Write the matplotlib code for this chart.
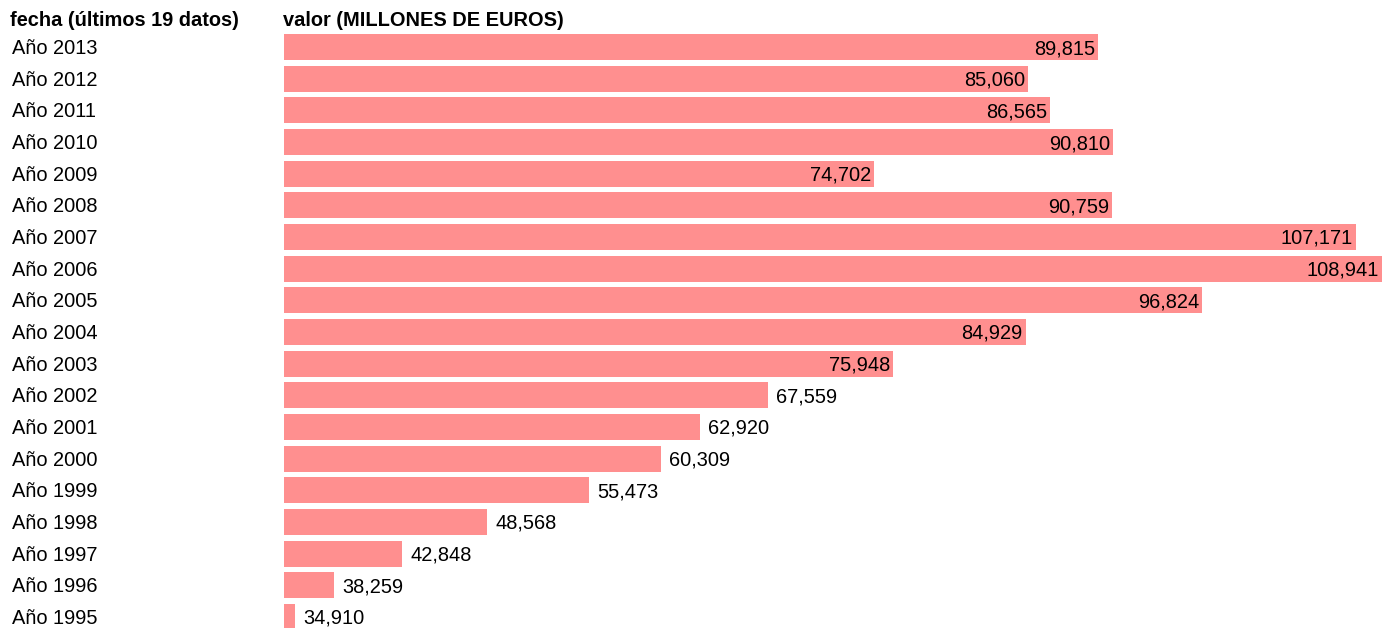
import numpy as np
import matplotlib
matplotlib.use("Agg")
import matplotlib.pyplot as plt
import matplotlib.transforms as mtransforms

plt.rcParams['font.family'] = ['Liberation Sans', 'DejaVu Sans']

# data (top to bottom as in the chart)
years = ['Año 2013', 'Año 2012', 'Año 2011', 'Año 2010', 'Año 2009', 'Año 2008',
         'Año 2007', 'Año 2006', 'Año 2005', 'Año 2004', 'Año 2003', 'Año 2002',
         'Año 2001', 'Año 2000', 'Año 1999', 'Año 1998', 'Año 1997', 'Año 1996',
         'Año 1995']
values = [89815, 85060, 86565, 90810, 74702, 90759, 107171, 108941, 96824,
          84929, 75948, 67559, 62920, 60309, 55473, 48568, 42848, 38259, 34910]
header_left = 'fecha (últimos 19 datos)'
header_right = 'valor (MILLONES DE EUROS)'

W, H = 1391, 628
fig = plt.figure(figsize=(W / 100, H / 100), dpi=100)
ax = fig.add_axes([284 / W, 0, 1102 / W, (628 - 31.2) / H])

x0 = 34870      # axis start value
x1 = 109229
min_w = 742     # smallest bar keeps a visible width
vals = np.array(values, dtype=float)
widths = np.maximum(vals - x0, min_w)
pos = np.arange(len(years))

ax.barh(pos, widths, left=x0, height=0.82, color='#ff8f8f')
ax.set_xlim(x0, x1)
ax.set_ylim(18.35, -0.5)
ax.axis('off')

fs = 14.4
dy = -1.5
for p, v, w in zip(pos, vals, widths):
    label = f'{int(v):,}'
    end = x0 + w
    if v > 70000:
        ax.annotate(label, (end, p), xytext=(-3, dy), textcoords='offset pixels',
                    ha='right', va='center', fontsize=fs, color='black')
    else:
        ax.annotate(label, (end, p), xytext=(8, dy), textcoords='offset pixels',
                    ha='left', va='center', fontsize=fs, color='black')

trans = mtransforms.blended_transform_factory(fig.transFigure, ax.transData)
for p, y in zip(pos, years):
    ax.annotate(y, (12 / W, p), xycoords=trans, xytext=(0, dy),
                textcoords='offset pixels', ha='left', va='center', fontsize=fs)

fig.text(10 / W, 1 - 21 / H, header_left, ha='left', va='center',
         fontsize=fs, fontweight='bold')
fig.text(283 / W, 1 - 21 / H, header_right, ha='left', va='center',
         fontsize=fs, fontweight='bold')

fig.savefig('out.png', dpi=100)
